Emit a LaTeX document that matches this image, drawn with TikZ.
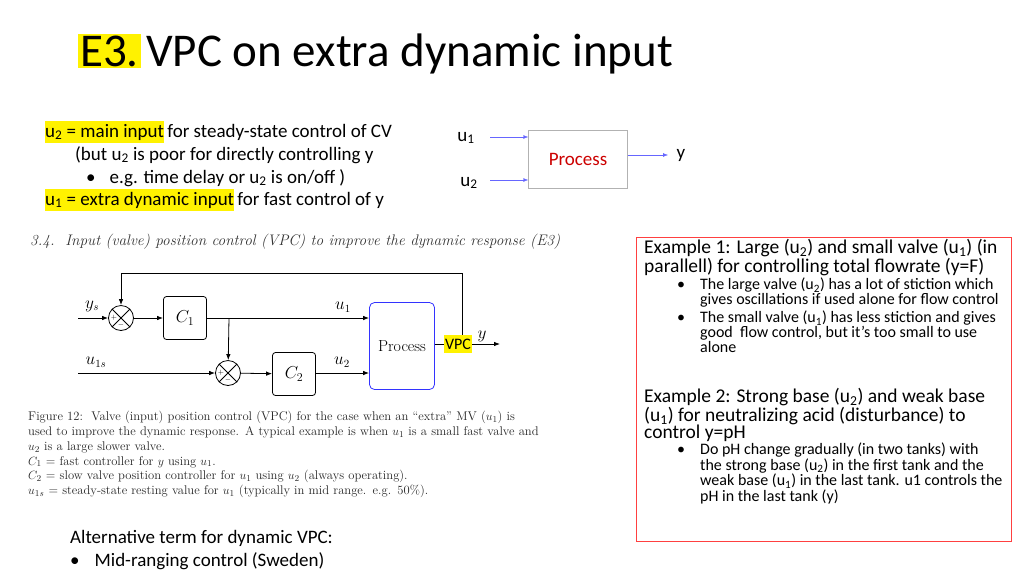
\documentclass[tikz,border=0pt]{standalone}
\usepackage{fontspec}
\setmainfont{Carlito}
\newfontfamily\lmr{Latin Modern Roman}
\usetikzlibrary{arrows.meta}
\tikzset{
 txt/.style={anchor=north west,inner sep=0pt,align=left},
 blk/.style={draw,thick,rounded corners=3pt,minimum width=43pt,minimum height=43pt,font=\lmr\fontsize{17}{19}\selectfont},
 sumc/.style={draw,thick,circle,minimum size=25pt,inner sep=0pt},
 sig/.style={-{Latex[length=6pt]},thick},
 hl/.style={fill=yellow,inner sep=1pt},
}
\begin{document}
\begin{tikzpicture}[x=1pt,y=-1pt]
\useasboundingbox (0,0) rectangle (1024,576);
% title
\node[hl,anchor=base west,font=\fontsize{47}{50}\selectfont,inner sep=2pt] (t1) at (78,66) {E3.};
\node[anchor=base west,font=\fontsize{47}{50}\selectfont,inner sep=2pt] (t2) at ([xshift=3pt]t1.base east) {VPC on extra dynamic input};
% left text
\begin{scope}[font=\fontsize{19}{20}\selectfont]
\node[anchor=base west,inner sep=0pt] (l1) at (45,137) {\colorbox{yellow}{\hspace{-3pt}u\textsubscript{2} = main input\hspace{-3pt}}\hspace{-1pt} for steady-state control of CV};
\node[anchor=base west,inner sep=0pt] (l2) at (75,160) {(but u\textsubscript{2} is poor for directly controlling y};
\node[anchor=base west,inner sep=0pt] (l3) at (86,183) {•\hspace{14pt}e.g. time delay or u\textsubscript{2} is on/off )};
\node[anchor=base west,inner sep=0pt] (l4) at (45,205) {\colorbox{yellow}{\hspace{-3pt}u\textsubscript{1} = extra dynamic input\hspace{-3pt}}\hspace{-1pt} for fast control of y};
\end{scope}
% small process
\node[draw=gray!60,minimum width=99pt,minimum height=58pt,text=red!80!black,font=\fontsize{19}{20}\selectfont] (sp) at (578,159) {Process};
\coordinate (su1) at (490,137);
\coordinate (su2) at (490,180);
\coordinate (sy) at (668,155);
\draw[-{Latex[length=5pt]},blue!60] (su1) -- (su1 -| sp.west);
\draw[-{Latex[length=5pt]},blue!60] (su2) -- (su2 -| sp.west);
\draw[-{Latex[length=5pt]},blue!60] (sp.east |- sy) -- (sy);
\node[font=\fontsize{19}{20}\selectfont] (lu1) at (466,138) {u\textsubscript{1}};
\node[font=\fontsize{19}{20}\selectfont] (lu2) at (469,183) {u\textsubscript{2}};
\node[font=\fontsize{19}{20}\selectfont] (ly) at (681,155) {y};
% embedded figure
\node[anchor=base west,inner sep=0pt,font=\lmr\fontsize{15.3}{17}\selectfont\itshape,text=black!80] (hd) at (30,245) {3.4.\ \ Input (valve) position control (VPC) to improve the dynamic response (E3)};
\node[sumc] (s1) at (121,318) {};
\node[sumc] (s2) at (228,373) {};
\foreach \s in {s1,s2}{
 \draw[thick] (\s.north west) -- (\s.south east) (\s.north east) -- (\s.south west);
 \node[font=\lmr\scriptsize,inner sep=0pt] at ([xshift=-7pt]\s.center) {$+$};
 \node[font=\lmr\scriptsize,inner sep=0pt] at ([yshift=-7pt]\s.center) {$-$};
}
\node[blk] (c1) at (185,318) {$C_1$};
\node[blk] (c2) at (294,374) {$C_2$};
\node[draw=blue!80,thick,rounded corners=5pt,minimum width=65pt,minimum height=87pt,font=\lmr\fontsize{16}{18}\selectfont] (pr) at (402,346) {Process};
\node[hl,font=\fontsize{16}{16}\selectfont,inner sep=1pt,minimum height=18pt] (vpc) at (458,344) {VPC};
\coordinate (ys) at (78,318);
\coordinate (u1s) at (78,373);
\coordinate (yo) at (500,344);
\coordinate (br) at (229,318);
\coordinate (tp) at (462,273);
\draw[sig] (ys) -- (s1);
\draw[sig] (s1) -- (c1);
\draw[sig] (c1) -- (c1 -| pr.west);
\draw[sig] (br) -- (s2);
\draw[sig] (u1s) -- (s2);
\draw[sig] (s2) -- (c2);
\draw[sig] (c2.east |- s2) -- (s2 -| pr.west);
\draw[thick] (pr.east |- vpc) -- (vpc.west);
\draw[sig] (vpc.east) -- (yo);
\draw[sig] (vpc.north -| tp) -- (tp) -| (s1.north);
\begin{scope}[font=\lmr\fontsize{16}{18}\selectfont]
\node (lys) at (92,306) {$y_s$};
\node (lu1s) at (96,362) {$u_{1s}$};
\node (lfu1) at (343,307) {$u_1$};
\node (lfu2) at (342,362) {$u_2$};
\node (lfy) at (482,336) {$y$};
\end{scope}
\node[txt,text width=526pt,font=\lmr\fontsize{12.6}{14.8}\selectfont,text=black!85] (cap) at (28,411) {%
\hbox to 526pt{Figure 12:\ \ Valve (input) position control (VPC) for the case when an “extra” MV ($u_1$) is}
\hbox to 526pt{used to improve the dynamic response. A typical example is when $u_1$ is a small fast valve and}
$u_2$ is a large slower valve.\\
$C_1$ = fast controller for $y$ using $u_1$.\\
$C_2$ = slow valve position controller for $u_1$ using $u_2$ (always operating).\\
$u_{1s}$ = steady-state resting value for $u_1$ (typically in mid range. e.g. 50\%).};
% bottom
\node[anchor=base west,inner sep=0pt,font=\fontsize{19}{20}\selectfont] (b1) at (70,543) {Alternative term for dynamic VPC:};
\node[anchor=base west,inner sep=0pt,font=\fontsize{19}{20}\selectfont] (b2) at (70,566) {•\hspace{15pt}Mid-ranging control (Sweden)};
% red box
\node[draw=red!75,minimum width=375pt,minimum height=304pt,anchor=north west] (rb) at (636,237) {};
\node[txt,font=\fontsize{19.5}{16.5}\selectfont] (e1) at (644,239) {Example 1: Large (u\textsubscript{2}) and small valve (u\textsubscript{1}) (in\\parallell) for controlling total flowrate (y=F)};
\node[txt,font=\fontsize{16}{13.3}\selectfont] (e1a) at (677,278) {•\hspace{15pt}\parbox[t]{310pt}{\raggedright The large valve (u\textsubscript{2}) has a lot of stiction which\\gives oscillations if used alone for flow control}};
\node[txt,font=\fontsize{16}{13.3}\selectfont] (e1b) at (677,311) {•\hspace{15pt}\parbox[t]{310pt}{\raggedright The small valve (u\textsubscript{1}) has less stiction and gives\\good\ \ flow control, but it’s too small to use\\alone}};
\node[txt,font=\fontsize{19.5}{16.5}\selectfont] (e2) at (644,388) {Example 2: Strong base (u\textsubscript{2}) and weak base\\(u\textsubscript{1}) for neutralizing acid (disturbance) to\\control y=pH};
\node[txt,font=\fontsize{16}{13.6}\selectfont] (e2a) at (677,443) {•\hspace{15pt}\parbox[t]{310pt}{\raggedright Do pH change gradually (in two tanks) with\\the strong base (u\textsubscript{2}) in the first tank and the\\weak base (u\textsubscript{1}) in the last tank. u1 controls the\\pH in the last tank (y)}};
\end{tikzpicture}
\end{document}
